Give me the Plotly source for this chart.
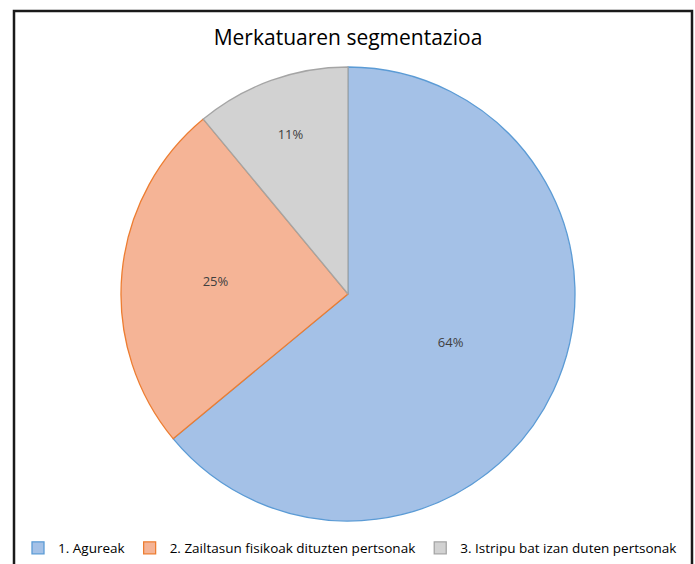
import plotly.graph_objects as go

labels = ["1. Agureak", "2. Zailtasun fisikoak dituzten pertsonak", "3. Istripu bat izan duten pertsonak"]
values = [64, 25, 11]
fill_colors = ["#a4c1e7", "#f5b496", "#d2d2d2"]
line_colors = ["#5b9bd5", "#ed7d31", "#a5a5a5"]
title = "Merkatuaren segmentazioa"

W, H = 695, 564

def px_x(x):
    return x / W

def px_y(y):
    return 1 - y / H

fig = go.Figure(go.Pie(
    labels=labels,
    values=values,
    sort=False,
    direction="clockwise",
    rotation=0,
    marker=dict(colors=fill_colors, line=dict(color=line_colors, width=1.3)),
    textinfo="percent",
    texttemplate="%{percent:.0%}",
    textposition="inside",
    insidetextorientation="horizontal",
    textfont=dict(family="Open Sans, sans-serif", size=13, color="#404040"),
    domain=dict(x=[px_x(121), px_x(575)], y=[px_y(521), px_y(67)]),
    hoverinfo="label+percent",
))

fig.update_layout(
    width=W, height=H,
    margin=dict(l=0, r=0, t=0, b=0),
    paper_bgcolor="white",
    plot_bgcolor="white",
    title=dict(text=title, x=px_x(348), xanchor="center", y=px_y(38), yanchor="middle",
               font=dict(family="Open Sans, sans-serif", size=21, color="#000000")),
    showlegend=True,
    legend=dict(orientation="h", x=px_x(350), xanchor="center", y=px_y(548), yanchor="middle",
                font=dict(family="Open Sans, sans-serif", size=13.5, color="#000000"),
                bgcolor="rgba(0,0,0,0)",
                itemwidth=30, traceorder="normal"),
    shapes=[dict(type="rect", xref="paper", yref="paper",
                 x0=px_x(14), x1=px_x(692), y0=-0.05, y1=px_y(11),
                 line=dict(color="#1a1a1a", width=2.5))],
)

fig.write_html(
    "out.html",
    config={"displayModeBar": False},
    post_script="document.body.style.margin='0';document.body.style.overflow='hidden';",
)
